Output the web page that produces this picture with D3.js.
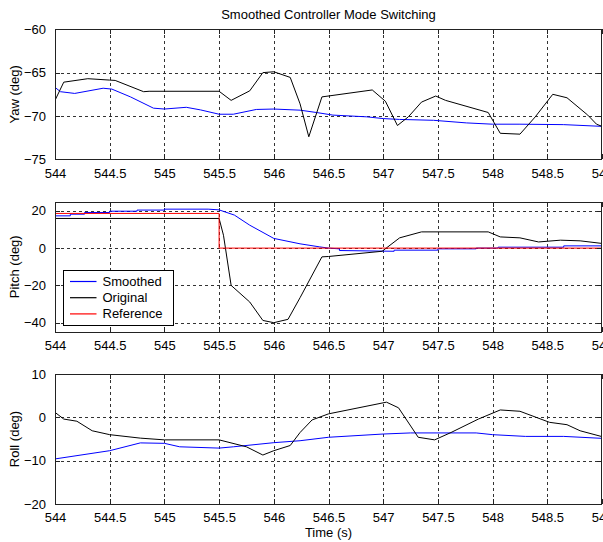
<!DOCTYPE html>
<html>
<head>
<meta charset="utf-8">
<script src="https://cdn.jsdelivr.net/npm/d3@7"></script>
<style>
  body { margin: 0; background: #fff; }
  svg { font-family: "Liberation Sans", Arial, sans-serif; }
</style>
</head>
<body>
<div id="chart"></div>
<script>
// values, [time (s), degrees]
const xTicks = [544, 544.5, 545, 545.5, 546, 546.5, 547, 547.5, 548, 548.5, 549];

const yawTicks = [-60, -65, -70, -75];
const pitchTicks = [20, 0, -20, -40];
const rollTicks = [10, 0, -10, -20];

const yawOriginal = [
  [544, -68.2], [544.08, -66.1], [544.3, -65.7], [544.5, -65.86], [544.55, -65.9],
  [544.81, -67.2], [544.86, -67.15], [545.5, -67.15], [545.61, -68.2], [545.78, -67.1],
  [545.9, -65.0], [546.0, -64.9], [546.15, -65.55], [546.24, -68.6], [546.32, -72.4],
  [546.44, -67.8], [546.9, -67.0], [547.02, -68.3], [547.13, -71.1], [547.23, -70.1],
  [547.35, -68.4], [547.48, -67.7], [547.57, -68.2], [547.96, -69.6], [548.07, -72.0],
  [548.25, -72.1], [548.39, -70.1], [548.55, -67.5], [548.68, -67.9], [548.87, -69.9],
  [548.95, -70.95], [549, -71.2]
];
const yawSmoothed = [
  [544, -66.7], [544.05, -67.2], [544.18, -67.4], [544.44, -66.8], [544.52, -66.9],
  [544.69, -67.8], [544.9, -69.1], [545.0, -69.2], [545.2, -69.0], [545.33, -69.3],
  [545.5, -69.8], [545.63, -69.8], [545.84, -69.25], [546.0, -69.2], [546.24, -69.33],
  [546.39, -69.6], [546.54, -69.9], [546.85, -70.1], [547.0, -70.3], [547.15, -70.4],
  [547.46, -70.5], [547.76, -70.8], [548.0, -70.95], [548.25, -70.95], [548.65, -71.0],
  [549, -71.2]
];

const pitchSmoothed = [
  [544, 17.3], [544.14, 17.3], [544.14, 18.2], [544.27, 18.2], [544.27, 19.1],
  [544.5, 19.1], [544.5, 19.8], [544.75, 19.8], [544.75, 20.4], [545.0, 20.4],
  [545.0, 20.9], [545.4, 20.9], [545.5, 20.5], [545.64, 17.7], [545.78, 12.3],
  [546.0, 5.2], [546.24, 2.3], [546.42, 0.65], [546.5, 0], [546.6, -0.4],
  [546.6, -1.3], [547.1, -1.7], [547.1, -1.1], [547.5, -1.1], [547.5, -0.4],
  [547.85, -0.4], [547.85, 0], [548.05, 0], [548.05, 0.5], [548.65, 0.5],
  [548.65, 1.2], [549, 1.2]
];
const pitchOriginal = [
  [544, 15.9], [545.5, 15.9], [545.54, 6.9], [545.61, -20], [545.78, -28.9],
  [545.9, -38.8], [546.0, -40], [546.13, -38.2], [546.24, -26.6], [546.44, -4.7],
  [546.5, -4.5], [546.99, -1.7], [547.15, 5.5], [547.35, 8.7], [547.96, 8.7],
  [548.07, 6.0], [548.25, 5.5], [548.42, 3.3], [548.62, 4.25], [548.8, 3.9],
  [549, 2.5]
];
const pitchReference = [[544, 18.6], [545.5, 18.6], [545.5, 0], [549, 0]];

const rollOriginal = [
  [544, 1.15], [544.08, -0.4], [544.2, -0.9], [544.34, -3.1], [544.5, -4.0],
  [544.78, -4.8], [545.0, -5.2], [545.5, -5.2], [545.75, -6.8], [545.9, -8.7],
  [546.0, -7.7], [546.15, -6.5], [546.24, -3.5], [546.35, -0.6], [546.5, 0.8],
  [547.03, 3.5], [547.14, 2.2], [547.32, -4.6], [547.47, -5.2], [547.62, -3.5],
  [547.87, -0.4], [548.07, 1.7], [548.25, 1.4], [548.52, -1.15], [548.68, -1.7],
  [548.8, -3.1], [549, -4.45]
];
const rollSmoothed = [
  [544, -9.6], [544.5, -7.7], [544.78, -5.9], [545.0, -6.0], [545.14, -6.8],
  [545.5, -7.1], [545.63, -6.8], [546.0, -5.85], [546.24, -5.4], [546.5, -4.6],
  [547.0, -3.85], [547.25, -3.6], [547.85, -3.6], [548.0, -4.0], [548.3, -4.4],
  [548.65, -4.4], [549, -4.85]
];

const legendNames = ['Smoothed', 'Original', 'Reference'];
const legendColors = ['#0000ff', '#000000', '#ff0000'];

const width = 603;
const height = 542;
const left = 55;
const right = 602;

const svg = d3.select('#chart').append('svg')
  .attr('width', width)
  .attr('height', height);

const xScale = d3.scaleLinear().domain([544, 549]).range([left, right]);

const panels = [
  { label: 'Yaw (deg)', top: 29.3, bottom: 159.3, domain: [-75, -60], ticks: yawTicks,
    series: [[yawSmoothed, '#0000ff'], [yawOriginal, '#000']] },
  { label: 'Pitch (deg)', top: 201.5, bottom: 332, domain: [-45, 25], ticks: pitchTicks,
    series: [[pitchSmoothed, '#0000ff'], [pitchOriginal, '#000'], [pitchReference, '#ff0000']] },
  { label: 'Roll (deg)', top: 374, bottom: 504, domain: [-20, 10], ticks: rollTicks,
    series: [[rollSmoothed, '#0000ff'], [rollOriginal, '#000']] }
];

panels.forEach((p, i) => {
  const yScale = d3.scaleLinear().domain(p.domain).range([p.bottom, p.top]);
  const g = svg.append('g');

  // dotted grid
  const grid = g.append('g')
    .attr('stroke', '#333')
    .attr('stroke-dasharray', '3,3')
    .attr('shape-rendering', 'crispEdges');
  grid.selectAll('.gx')
    .data(xTicks.filter((d) => d > 544 && d < 549))
    .join('line')
    .attr('x1', (d) => Math.round(xScale(d)) + 0.5)
    .attr('x2', (d) => Math.round(xScale(d)) + 0.5)
    .attr('y1', p.top)
    .attr('y2', p.bottom);
  grid.selectAll('.gy')
    .data(p.ticks.filter((d) => d > p.domain[0] && d < p.domain[1]))
    .join('line')
    .attr('x1', left)
    .attr('x2', right)
    .attr('y1', (d) => Math.round(yScale(d)) + 0.5)
    .attr('y2', (d) => Math.round(yScale(d)) + 0.5);

  // data lines
  const clipId = 'clip' + i;
  svg.append('clipPath').attr('id', clipId)
    .append('rect')
    .attr('x', left).attr('y', p.top)
    .attr('width', right - left).attr('height', p.bottom - p.top);

  const line = d3.line().x((d) => xScale(d[0])).y((d) => yScale(d[1]));
  g.append('g').attr('clip-path', `url(#${clipId})`)
    .selectAll('path')
    .data(p.series)
    .join('path')
    .attr('d', (d) => line(d[0]))
    .attr('fill', 'none')
    .attr('stroke', (d) => d[1])
    .attr('stroke-width', 1);

  // axes: bottom/top with inward ticks, left/right likewise
  const bottomAxis = d3.axisBottom(xScale).tickValues(xTicks).tickSizeInner(-5).tickSizeOuter(0)
    .tickPadding(9).tickFormat((d) => String(d));
  const ax = g.append('g').attr('transform', `translate(0,${p.bottom})`).call(bottomAxis);
  const topAxis = d3.axisTop(xScale).tickValues(xTicks).tickSizeInner(-5).tickSizeOuter(0).tickFormat('');
  const at = g.append('g').attr('transform', `translate(0,${p.top})`).call(topAxis);
  const leftAxis = d3.axisLeft(yScale).tickValues(p.ticks).tickSizeInner(-5).tickSizeOuter(0).tickPadding(9);
  const al = g.append('g').attr('transform', `translate(${left},0)`).call(leftAxis);
  const rightAxis = d3.axisRight(yScale).tickValues(p.ticks).tickSizeInner(-5).tickSizeOuter(0).tickFormat('');
  const ar = g.append('g').attr('transform', `translate(${right},0)`).call(rightAxis);

  [ax, at, al, ar].forEach((a) => {
    a.attr('font-family', null).attr('font-size', 13);
    a.select('.domain').remove();
    a.selectAll('line').attr('stroke', '#222').attr('shape-rendering', 'crispEdges');
    a.selectAll('text').attr('fill', '#000');
  });

  // box
  g.append('rect')
    .attr('x', left + 0.5).attr('y', Math.round(p.top) + 0.5)
    .attr('width', right - left - 1).attr('height', Math.round(p.bottom) - Math.round(p.top))
    .attr('fill', 'none')
    .attr('stroke', '#222')
    .attr('shape-rendering', 'crispEdges');

  g.append('text')
    .attr('transform', `translate(19,${(p.top + p.bottom) / 2}) rotate(-90)`)
    .attr('text-anchor', 'middle')
    .attr('font-size', 13)
    .text(p.label);
});

svg.append('text')
  .attr('x', (left + right) / 2).attr('y', 19)
  .attr('text-anchor', 'middle')
  .attr('font-size', 13)
  .text('Smoothed Controller Mode Switching');

svg.append('text')
  .attr('x', (left + right) / 2).attr('y', 537)
  .attr('text-anchor', 'middle')
  .attr('font-size', 13)
  .text('Time (s)');

// legend in the pitch panel
const legend = svg.append('g').attr('transform', 'translate(63.5,270.5)');
legend.append('rect')
  .attr('width', 110).attr('height', 55)
  .attr('fill', '#fff').attr('stroke', '#000')
  .attr('shape-rendering', 'crispEdges');
legend.selectAll('.swatch')
  .data(legendNames)
  .join('line')
  .attr('class', 'swatch')
  .attr('x1', 6.5).attr('x2', 33)
  .attr('y1', (d, i) => 11 + i * 16.2)
  .attr('y2', (d, i) => 11 + i * 16.2)
  .attr('stroke', (d, i) => legendColors[i])
  .attr('stroke-width', 1.2);
legend.selectAll('.name')
  .data(legendNames)
  .join('text')
  .attr('class', 'name')
  .attr('x', 39)
  .attr('y', (d, i) => 15.5 + i * 16.2)
  .attr('font-size', 13)
  .text((d) => d);
</script>
</body>
</html>
